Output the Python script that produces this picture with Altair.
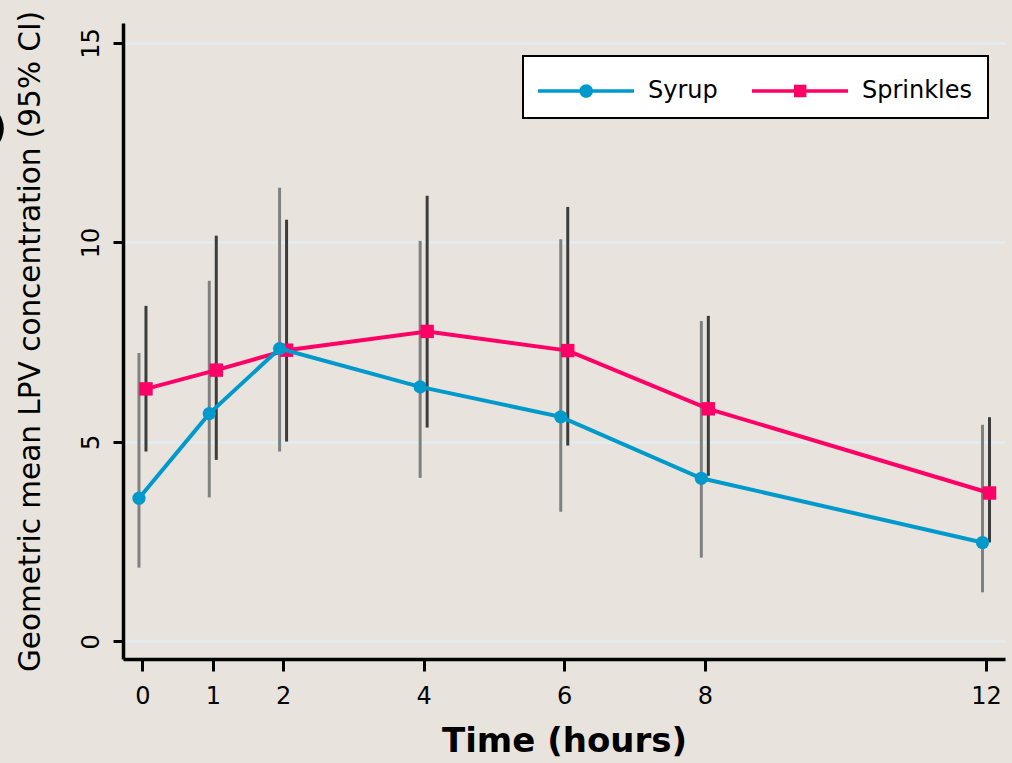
import altair as alt
import pandas as pd

# ---- data ----
hours = [0, 1, 2, 4, 6, 8, 12]
syrup_mean = [3.59, 5.71, 7.34, 6.38, 5.63, 4.09, 2.48]
syrup_lo = [1.85, 3.61, 4.76, 4.10, 3.25, 2.10, 1.23]
syrup_hi = [7.23, 9.04, 11.37, 10.04, 10.08, 8.03, 5.43]
sprinkles_mean = [6.33, 6.80, 7.30, 7.77, 7.29, 5.83, 3.72]
sprinkles_lo = [4.76, 4.55, 5.01, 5.36, 4.91, 4.15, 2.48]
sprinkles_hi = [8.41, 10.17, 10.57, 11.17, 10.89, 8.16, 5.62]

series_names = ["Syrup", "Sprinkles"]
series_colors = ["#0099cc", "#ff0066"]
bar_colors = {"Syrup": "#808080", "Sprinkles": "#3c3c3c"}
y_ticks = [0, 5, 10, 15]

rows = []
for name, m, lo, hi in [("Syrup", syrup_mean, syrup_lo, syrup_hi),
                        ("Sprinkles", sprinkles_mean, sprinkles_lo, sprinkles_hi)]:
    for h, a, b, c in zip(hours, m, lo, hi):
        rows.append({"series": name, "hours": h, "mean": a, "lo": b, "hi": c})
df = pd.DataFrame(rows)

FONT = "DejaVu Sans"

xscale = alt.Scale(domain=[-0.277, 12.27], nice=False, zero=False)
yscale = alt.Scale(domain=[-0.44, 15.5], nice=False, zero=False)

x_axis = alt.Axis(values=hours, grid=False, domainColor="black", domainWidth=3.5,
                  tickColor="black", tickWidth=3, tickSize=12,
                  labelFont=FONT, labelFontSize=24, labelColor="black", labelPadding=13,
                  title="Time (hours)", titleFont=FONT, titleFontSize=34,
                  titleFontWeight="bold", titleColor="black", titlePadding=16)
y_axis = alt.Axis(values=y_ticks, grid=True, gridColor="#e3ebee", gridWidth=3,
                  domainColor="black", domainWidth=3.5,
                  tickColor="black", tickWidth=3, tickSize=10,
                  labelAngle=270, labelAlign="center", labelBaseline="bottom",
                  labelFont=FONT, labelFontSize=24, labelColor="black", labelPadding=10,
                  title="Geometric mean LPV concentration (95% CI)", titleFont=FONT,
                  titleFontSize=29.5, titleFontWeight="normal", titleColor="black",
                  titlePadding=34)

X = alt.X("hours:Q", scale=xscale, axis=x_axis)
Y = alt.Y("mean:Q", scale=yscale, axis=y_axis)

base = alt.Chart(df)

offsets = {"Syrup": -3.5, "Sprinkles": 3.5}

rules = []
for name in series_names:
    rules.append(
        base.transform_filter(alt.datum.series == name)
        .mark_rule(color=bar_colors[name], strokeWidth=3, xOffset=offsets[name])
        .encode(x=X, y=alt.Y("lo:Q", scale=yscale, axis=y_axis), y2="hi:Q")
    )

def line_layer(name, color):
    return (base.transform_filter(alt.datum.series == name)
            .mark_line(color=color, strokeWidth=4, xOffset=offsets[name])
            .encode(x=X, y=Y, order="hours:Q"))

def point_layer(name, color, shape, size):
    return (base.transform_filter(alt.datum.series == name)
            .mark_point(color=color, filled=True, opacity=1, shape=shape, size=size,
                        xOffset=offsets[name])
            .encode(x=X, y=Y))

# legend symbols: a line with a marker in the middle
path_circle = ("M-1,-0.09 L3.8,-0.09 L3.8,0.09 L-1,0.09 Z "
               "M1.75,0 A0.34,0.34 0 1,1 1.07,0 A0.34,0.34 0 1,1 1.75,0 Z")
path_square = ("M-1,-0.09 L3.8,-0.09 L3.8,0.09 L-1,0.09 Z "
               "M1.1,-0.31 L1.72,-0.31 L1.72,0.31 L1.1,0.31 Z")

legend = alt.Legend(title=None, orient="none", legendX=400, legendY=33,
                    direction="horizontal", fillColor="white", strokeColor="black",
                    padding=15, labelFont=FONT, labelFontSize=24,
                    labelColor="black", labelOffset=70, columnPadding=34,
                    symbolSize=1600, symbolStrokeWidth=0, symbolOpacity=1,
                    labelLimit=300)

legend_layer = (base.transform_filter("false")
                .mark_point(filled=True, opacity=1)
                .encode(x=X, y=Y,
                        color=alt.Color("series:N",
                                        scale=alt.Scale(domain=series_names, range=series_colors),
                                        legend=legend),
                        shape=alt.Shape("series:N",
                                        scale=alt.Scale(domain=series_names,
                                                        range=[path_circle, path_square]),
                                        legend=legend)))

blob = (alt.Chart(pd.DataFrame({"k": [0]}))
        .mark_point(filled=True, color="black", opacity=1, shape="circle", size=2460)
        .encode(x=alt.value(-144), y=alt.value(105.5)))

chart = alt.layer(
    *rules,
    line_layer("Sprinkles", series_colors[1]),
    point_layer("Sprinkles", series_colors[1], "square", 180),
    line_layer("Syrup", series_colors[0]),
    point_layer("Syrup", series_colors[0], "circle", 175),
    legend_layer,
    blob,
).properties(
    width=882, height=636,
    autosize=alt.AutoSizeParams(type="none"),
    padding={"left": 123, "top": 23, "right": 7, "bottom": 104},
    background="#e8e4dd",
).configure_view(stroke=None).configure_legend(strokeWidth=2)

chart.save("out.html", embed_options={"renderer": "svg", "actions": False})
